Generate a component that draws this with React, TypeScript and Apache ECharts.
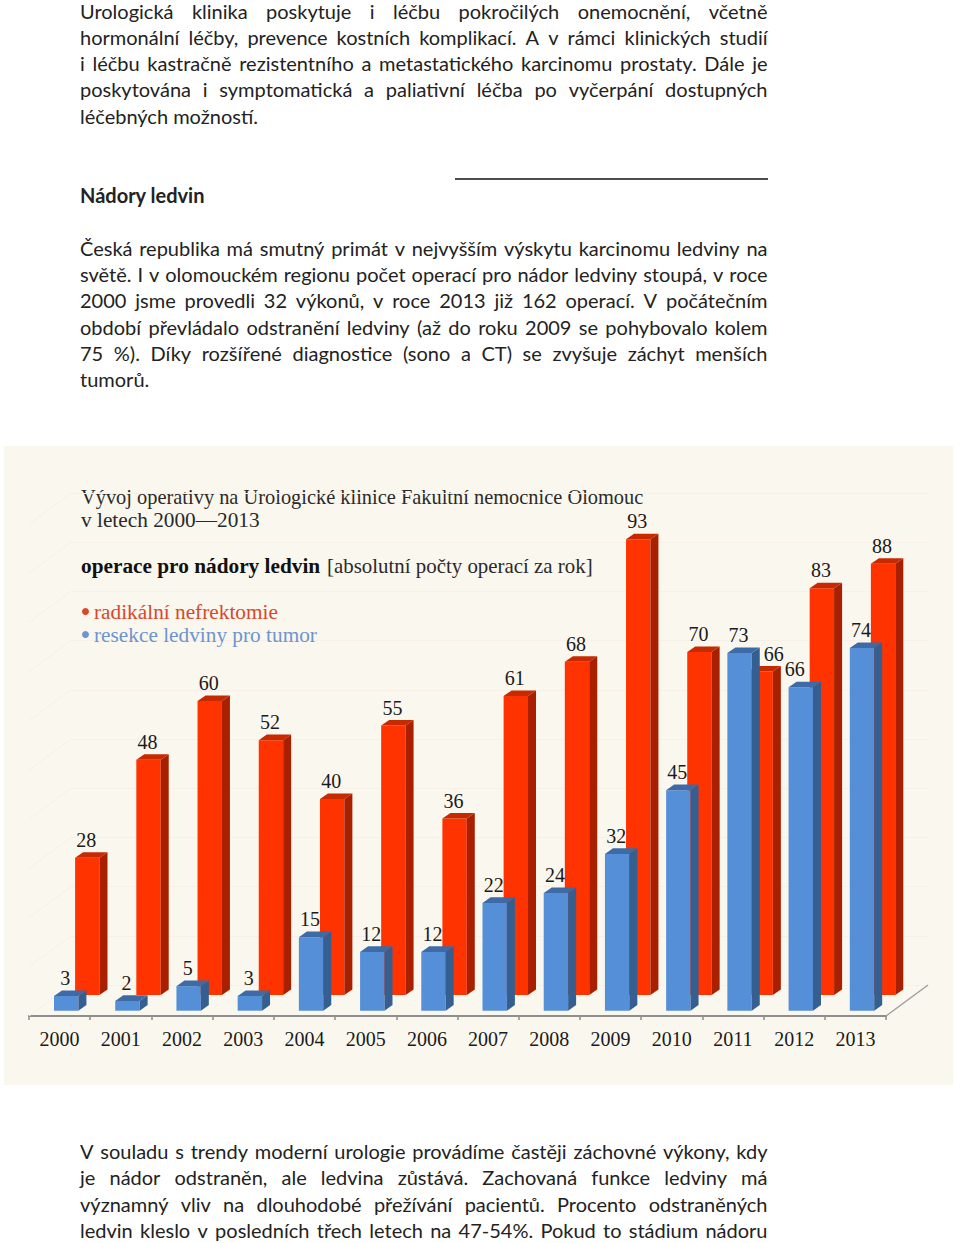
import React, { useEffect, useRef } from "react";
import * as echarts from "echarts";

const years = ["2000","2001","2002","2003","2004","2005","2006","2007","2008","2009","2010","2011","2012","2013"];
const nephrectomy = [28,48,60,52,40,55,36,61,68,93,70,66,83,88];
const resection = [3,2,5,3,15,12,12,22,24,32,45,73,66,74];
const wallTicks = [0,10,20,30,40,50,60,70,80,90,100];

const NEPH_NAME = "radikální nefrektomie";
const RES_NAME = "resekce ledviny pro tumor";

const para1 = [
  "Urologická klinika poskytuje i léčbu pokročilých onemocnění, včetně",
  "hormonální léčby, prevence kostních komplikací. A v rámci klinických studií",
  "i léčbu kastračně rezistentního a metastatického karcinomu prostaty. Dále je",
  "poskytována i symptomatická a paliativní léčba po vyčerpání dostupných",
  "léčebných možností.",
];
const heading = "Nádory ledvin";
const para2 = [
  "Česká republika má smutný primát v nejvyšším výskytu karcinomu ledviny na",
  "světě. I v olomouckém regionu počet operací pro nádor ledviny stoupá, v roce",
  "2000 jsme provedli 32 výkonů, v roce 2013 již 162 operací. V počátečním",
  "období převládalo odstranění ledviny (až do roku 2009 se pohybovalo kolem",
  "75 %). Díky rozšířené diagnostice (sono a CT) se zvyšuje záchyt menších",
  "tumorů.",
];
const para3 = [
  "V souladu s trendy moderní urologie provádíme častěji záchovné výkony, kdy",
  "je nádor odstraněn, ale ledvina zůstává. Zachovaná funkce ledviny má",
  "významný vliv na dlouhodobé přežívání pacientů. Procento odstraněných",
  "ledvin kleslo v posledních třech letech na 47-54%. Pokud to stádium nádoru",
];
const titleLine1 = "Vývoj operativy na Urologické klinice Fakultní nemocnice Olomouc";
const titleLine2 = "v letech 2000—2013";
const subBold = "operace pro nádory ledvin";
const subPlain = "[absolutní počty operací za rok]";

const BODY_FONT = '20px Lato';
const SERIF = '"Liberation Serif"';
const BODY_COLOR = "#222222";

function bodyLines(lines: string[], ys: number[], lastLeft: boolean) {
  const ctx = document.createElement("canvas").getContext("2d")!;
  ctx.font = BODY_FONT;
  const out: any[] = [];
  const L = 80, W = 687.5;
  lines.forEach((line, i) => {
    const words = line.split(" ");
    const isLast = lastLeft && i === lines.length - 1;
    const widths = words.map((w) => ctx.measureText(w).width);
    const total = widths.reduce((a, b) => a + b, 0);
    const gap = isLast ? ctx.measureText(" ").width : (W - total) / (words.length - 1);
    let x = L;
    words.forEach((w, k) => {
      out.push({ type: "text", style: { x, y: ys[i], text: w, font: BODY_FONT, fill: BODY_COLOR, verticalAlign: "middle", align: "left" } });
      x += widths[k] + gap;
    });
  });
  return out;
}

function serifText(text: string, x: number, y: number, size: number, fill: string, bold = false) {
  return { type: "text", style: { x, y, text, font: `${bold ? "bold " : ""}${size}px ${SERIF}`, fill, verticalAlign: "middle", align: "left" } };
}

function bar3d(
  api: any, idx: number, val: number, dx: number, floor: number,
  front: string, side: string, top: string, labelDx: number,
) {
  const base = api.coord([idx, 0]);
  const head = api.coord([idx, val]);
  const w = 24.4, sx = 8, sy = 5.6;
  const cx = base[0] + dx;
  const x0 = cx - w / 2, x1 = cx + w / 2;
  const yb = base[1] - floor, yt = head[1] - floor;
  return {
    type: "group",
    children: [
      { type: "rect", shape: { x: x0, y: yt, width: w, height: yb - yt }, style: { fill: front } },
      { type: "polygon", shape: { points: [[x1, yt], [x1 + sx, yt - sy], [x1 + sx, yb - sy], [x1, yb]] }, style: { fill: side } },
      { type: "polygon", shape: { points: [[x0, yt], [x0 + sx, yt - sy], [x1 + sx, yt - sy], [x1, yt]] }, style: { fill: top } },
      { type: "text", z2: 50, style: { x: cx - 1 + labelDx, y: yt - 18, text: String(val), font: `20px ${SERIF}`, fill: "#1a1a1a", align: "center", verticalAlign: "middle" } },
    ],
  };
}

export default function App() {
  const ref = useRef<HTMLDivElement>(null);
  useEffect(() => {
    const chart = echarts.init(ref.current!, null, { renderer: "svg" });
    const gridLine = "#F8F0E6";
    chart.setOption({
      animation: false,
      backgroundColor: "#ffffff",
      grid: [
        { left: 29, width: 857, top: 526, height: 490 },
        { left: 71, width: 857, top: 493, height: 492 },
      ],
      xAxis: [
        {
          type: "category", gridIndex: 0, data: years,
          axisLine: { lineStyle: { color: "#8E8E8E", width: 2 } },
          axisTick: { show: true, length: 4, alignWithLabel: false, lineStyle: { color: "#8E8E8E", width: 1.5 } },
          axisLabel: { margin: 13, fontFamily: SERIF, fontSize: 20, color: "#1a1a1a" },
          splitLine: { show: false },
        },
        { type: "value", gridIndex: 1, min: 0, max: 1, show: false },
      ],
      yAxis: [
        { type: "value", gridIndex: 0, min: 0, max: 100, show: false },
        {
          type: "value", gridIndex: 1, min: 0, max: 100, interval: 10,
          axisLine: { show: false }, axisTick: { show: false }, axisLabel: { show: false },
          splitLine: { show: true, lineStyle: { color: gridLine, width: 1 } },
        },
      ],
      legend: {
        orient: "vertical", left: 82, top: 601, padding: 0, itemWidth: 7, itemHeight: 7, itemGap: 2,
        icon: "circle",
        data: [
          { name: NEPH_NAME, textStyle: { color: "#D8482A" } },
          { name: RES_NAME, textStyle: { color: "#6C95CE" } },
        ],
        textStyle: { fontFamily: SERIF, fontSize: 21.3 },
      },
      graphic: {
        elements: [
          { type: "rect", z: -10, shape: { x: 4, y: 446, width: 949, height: 639 }, style: { fill: "#FAF7EE" } },
          ...bodyLines(para1, [10.5, 36.5, 62.5, 89, 115.5], true),
          { type: "text", style: { x: 80, y: 194.5, text: heading, font: 'bold 20px Lato', fill: BODY_COLOR, verticalAlign: "middle", align: "left" } },
          { type: "line", shape: { x1: 455, y1: 179, x2: 768, y2: 179 }, style: { stroke: "#111111", lineWidth: 1.4 } },
          ...bodyLines(para2, [247.5, 273.5, 299.5, 326.5, 352.5, 378.5], true),
          ...bodyLines(para3, [1150.5, 1176.5, 1203.5, 1229.5], false),
          serifText(titleLine1, 81, 497, 20.4, "#2a2a2a"),
          serifText(titleLine2, 81, 520, 21.3, "#2a2a2a"),
          serifText(subBold, 81, 566, 21.3, "#111111", true),
          serifText(subPlain, 327, 566, 20.9, "#2a2a2a"),
        ],
      },
      series: [
        {
          type: "custom", name: "wall", xAxisIndex: 1, yAxisIndex: 1, z: 1, silent: true,
          data: wallTicks.map((t) => [0, t]),
          renderItem: (_p: any, api: any) => {
            const a = api.coord([0, api.value(1)]);
            return { type: "line", shape: { x1: a[0], y1: a[1], x2: a[0] - 42, y2: a[1] + 31 }, style: { stroke: gridLine, lineWidth: 1 } };
          },
        },
        {
          type: "custom", name: "floor", xAxisIndex: 1, yAxisIndex: 1, z: 1, silent: true,
          data: [[1, 0]],
          renderItem: (_p: any, api: any) => {
            const a = api.coord([1, 0]);
            return { type: "line", shape: { x1: a[0], y1: a[1], x2: a[0] - 42, y2: a[1] + 31 }, style: { stroke: "#A0A0A0", lineWidth: 1.5 } };
          },
        },
        {
          type: "custom", name: NEPH_NAME, xAxisIndex: 0, yAxisIndex: 0, z: 3,
          itemStyle: { color: "#D8482A" },
          data: nephrectomy.map((v, i) => [i, v]),
          renderItem: (_p: any, api: any) => {
            const i = api.value(0);
            return bar3d(api, i, api.value(1), 27.7, 21, "#FF3300", "#A82000", "#C62A00", years[i] === "2011" ? 14 : 0);
          },
        },
        {
          type: "custom", name: RES_NAME, xAxisIndex: 0, yAxisIndex: 0, z: 4,
          itemStyle: { color: "#6C95CE" },
          data: resection.map((v, i) => [i, v]),
          renderItem: (_p: any, api: any) => {
            const i = api.value(0);
            return bar3d(api, i, api.value(1), 6.6, 5.3, "#548FD8", "#365F91", "#3E6BA5", years[i] === "2012" ? -5 : 0);
          },
        },
      ],
    });
    return () => chart.dispose();
  }, []);
  return <div ref={ref} style={{ position: "absolute", left: 0, top: 0, width: 960, height: 1243 }} />;
}
